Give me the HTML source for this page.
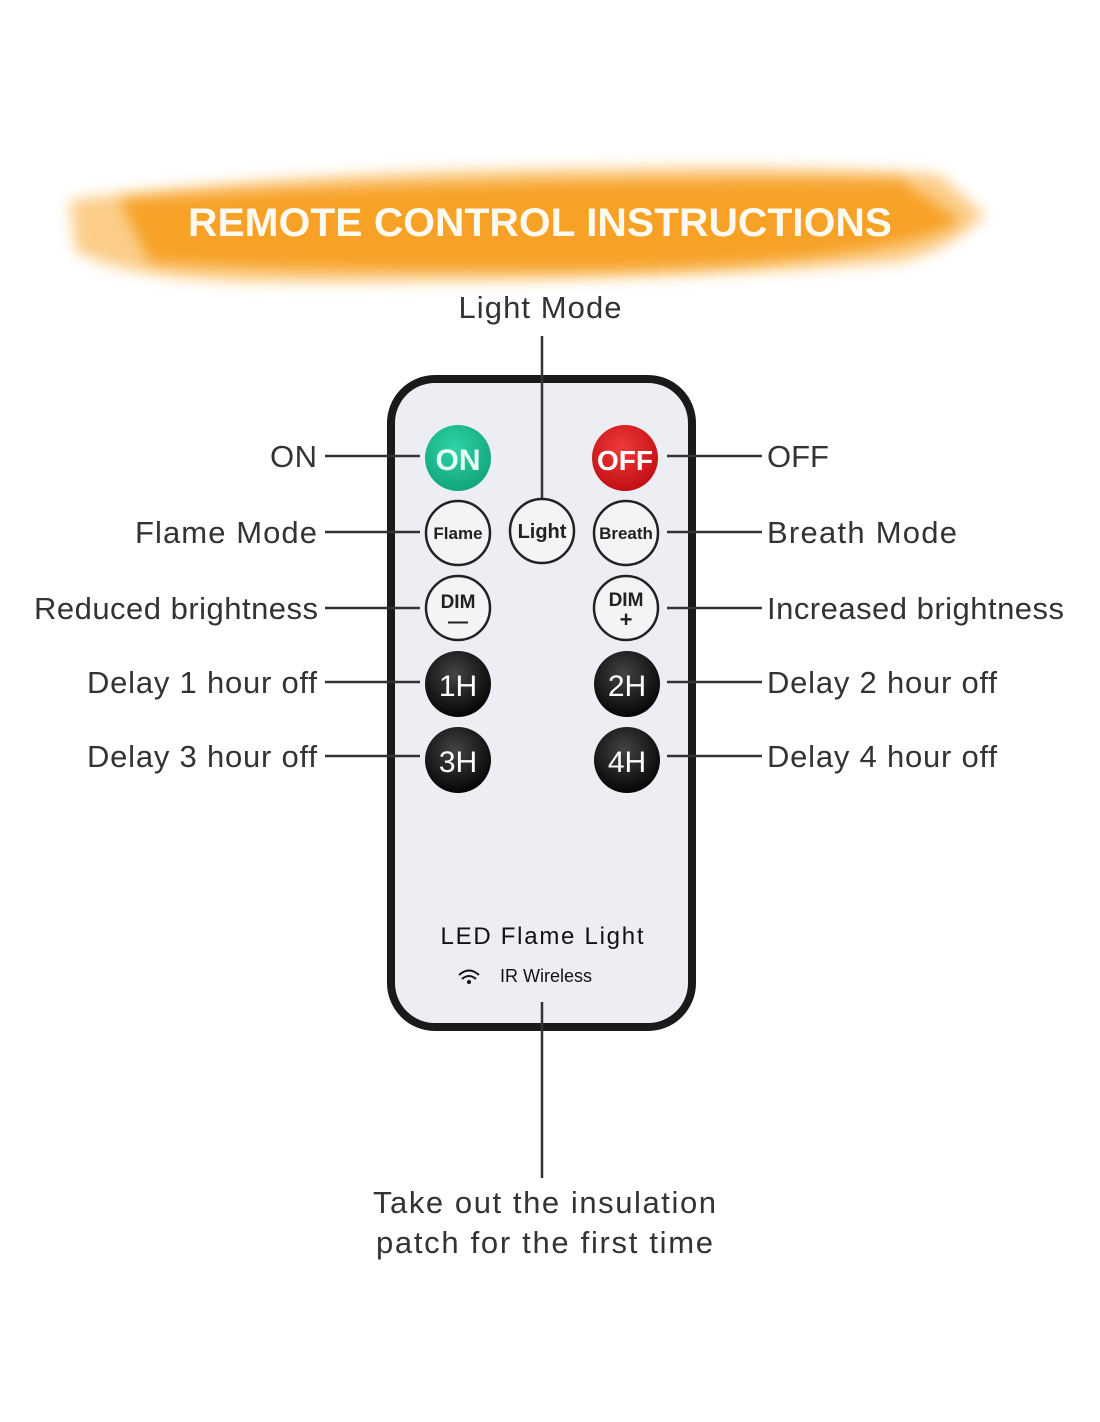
<!DOCTYPE html>
<html><head><style>
html,body{margin:0;padding:0;background:#fff;}
svg{display:block;}
.l{font-family:"Liberation Sans",sans-serif;font-size:31px;fill:#333;}
</style></head><body>
<svg width="1100" height="1422" viewBox="0 0 1100 1422" xmlns="http://www.w3.org/2000/svg">
<defs>
<filter id="blur" x="-10%" y="-30%" width="120%" height="160%"><feGaussianBlur stdDeviation="7"/></filter>
<radialGradient id="blk" cx="45%" cy="35%" r="65%"><stop offset="0" stop-color="#444"/><stop offset="1" stop-color="#050505"/></radialGradient>
<radialGradient id="grn" cx="45%" cy="35%" r="65%"><stop offset="0" stop-color="#2fd4a8"/><stop offset="1" stop-color="#12a57d"/></radialGradient>
<radialGradient id="red" cx="45%" cy="35%" r="65%"><stop offset="0" stop-color="#f03a3a"/><stop offset="1" stop-color="#c20f14"/></radialGradient>
</defs>
<path d="M70 200 Q300 170 600 168 Q850 165 940 175 L985 215 Q950 250 900 262 Q600 285 250 282 Q120 278 75 250 Z" fill="#f8a52a" opacity="0.55" filter="url(#blur)"/>
<path d="M120 200 Q400 178 900 180 L960 220 Q900 262 600 270 Q300 272 150 262 Z" fill="#f7a126" filter="url(#blur)"/>
<text x="540" y="236" text-anchor="middle" font-family="Liberation Sans,sans-serif" font-weight="bold" font-size="40" fill="#fffaf0" textLength="704" lengthAdjust="spacingAndGlyphs">REMOTE CONTROL INSTRUCTIONS</text>
<text class="l" x="540" y="318" text-anchor="middle" textLength="163">Light Mode</text>
<rect x="391" y="379" width="301" height="648" rx="44" fill="#eceef3" stroke="#1a1a1a" stroke-width="8"/>
<g stroke="#333" stroke-width="2.5">
<line x1="542" y1="336" x2="542" y2="500"/>
<line x1="542" y1="1002" x2="542" y2="1178"/>
<line x1="325" y1="456" x2="420" y2="456"/><line x1="667" y1="456" x2="762" y2="456"/>
<line x1="325" y1="532" x2="420" y2="532"/><line x1="667" y1="532" x2="762" y2="532"/>
<line x1="325" y1="608" x2="420" y2="608"/><line x1="667" y1="608" x2="762" y2="608"/>
<line x1="325" y1="682" x2="420" y2="682"/><line x1="667" y1="682" x2="762" y2="682"/>
<line x1="325" y1="756" x2="420" y2="756"/><line x1="667" y1="756" x2="762" y2="756"/>
</g>
<g font-family="Liberation Sans,sans-serif" font-weight="bold" text-anchor="middle">
<circle cx="458" cy="458" r="33" fill="url(#grn)"/><text x="458" y="470" font-size="30" fill="#e8fff6">ON</text>
<circle cx="625" cy="458" r="33" fill="url(#red)"/><text x="625" y="470" font-size="28" fill="#fff">OFF</text>
<g fill="#f3f4f6" stroke="#222" stroke-width="2.5">
<circle cx="458" cy="533" r="32"/><circle cx="542" cy="531" r="32"/><circle cx="626" cy="533" r="32"/>
<circle cx="458" cy="608" r="32"/><circle cx="626" cy="608" r="32"/>
</g>
<text x="458" y="539" font-size="17" fill="#222">Flame</text>
<text x="542" y="538" font-size="20" fill="#222">Light</text>
<text x="626" y="539" font-size="17" fill="#222">Breath</text>
<text x="458" y="608" font-size="19" fill="#222">DIM</text><text x="458" y="628" font-size="20" fill="#222">—</text>
<text x="626" y="606" font-size="19" fill="#222">DIM</text><text x="626" y="627" font-size="22" fill="#222">+</text>
<circle cx="458" cy="684" r="33" fill="url(#blk)"/><text x="458" y="696" font-size="30" font-weight="normal" fill="#fff">1H</text>
<circle cx="627" cy="684" r="33" fill="url(#blk)"/><text x="627" y="696" font-size="30" font-weight="normal" fill="#fff">2H</text>
<circle cx="458" cy="760" r="33" fill="url(#blk)"/><text x="458" y="772" font-size="30" font-weight="normal" fill="#fff">3H</text>
<circle cx="627" cy="760" r="33" fill="url(#blk)"/><text x="627" y="772" font-size="30" font-weight="normal" fill="#fff">4H</text>
</g>
<text x="542" y="944" text-anchor="middle" font-family="Liberation Sans,sans-serif" font-size="24" fill="#111" textLength="203">LED Flame Light</text>
<text x="546" y="982" text-anchor="middle" font-family="Liberation Sans,sans-serif" font-size="18" fill="#111">IR Wireless</text>
<g fill="none" stroke="#111" stroke-width="2"><path d="M459 975 Q469 966 479 975"/><path d="M462 979 Q469 973 476 979"/></g>
<circle cx="469" cy="982" r="2" fill="#111"/>
<text class="l" x="270" y="467" textLength="47">ON</text>
<text class="l" x="135" y="543" textLength="182">Flame Mode</text>
<text class="l" x="34" y="619" textLength="284">Reduced brightness</text>
<text class="l" x="87" y="693" textLength="230">Delay 1 hour off</text>
<text class="l" x="87" y="767" textLength="230">Delay 3 hour off</text>
<text class="l" x="767" y="467">OFF</text>
<text class="l" x="767" y="543" textLength="190">Breath Mode</text>
<text class="l" x="767" y="619" textLength="297">Increased brightness</text>
<text class="l" x="767" y="693" textLength="230">Delay 2 hour off</text>
<text class="l" x="767" y="767" textLength="230">Delay 4 hour off</text>
<text class="l" x="373" y="1213" textLength="343">Take out the insulation</text>
<text class="l" x="376" y="1253" textLength="337">patch for the first time</text>
</svg>
</body></html>
